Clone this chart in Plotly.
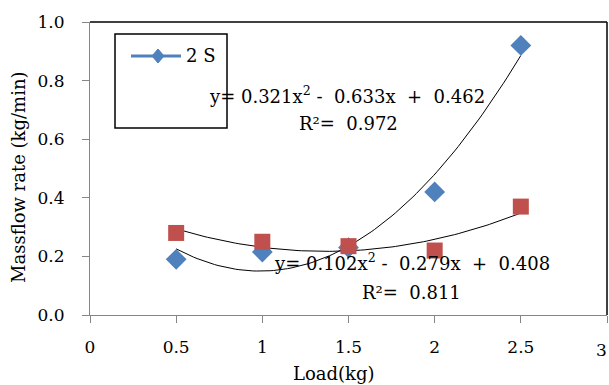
import numpy as np
import plotly.graph_objects as go

loads = [0.5, 1.0, 1.5, 2.0, 2.5]
s2_values = [0.19, 0.215, 0.23, 0.42, 0.92]
red_values = [0.28, 0.25, 0.235, 0.22, 0.37]
blue_coef = [0.321, -0.633, 0.462]
red_coef = [0.102, -0.279, 0.408]
x_ticks = [0, 0.5, 1, 1.5, 2, 2.5, 3]
x_tick_labels = ["0", "0.5", "1", "1.5", "2", "2.5", "3"]
y_ticks = [0.0, 0.2, 0.4, 0.6, 0.8, 1.0]

BLUE = "#4F81BD"
RED = "#C0504D"
FONT = "DejaVu Serif, serif"
NB = "\u00a0"

def f(size):
    return dict(family=FONT, size=size, color="black")

xs = np.linspace(loads[0], loads[-1], 100)
fig = go.Figure()
fig.add_trace(go.Scatter(x=xs, y=np.polyval(blue_coef, xs), mode="lines",
                         line=dict(color="black", width=1), showlegend=False, hoverinfo="skip"))
fig.add_trace(go.Scatter(x=xs, y=np.polyval(red_coef, xs), mode="lines",
                         line=dict(color="black", width=1), showlegend=False, hoverinfo="skip"))
fig.add_trace(go.Scatter(x=loads, y=s2_values, mode="markers", name="2 S",
                         marker=dict(symbol="diamond", size=16, color=BLUE), showlegend=False))
fig.add_trace(go.Scatter(x=loads, y=red_values, mode="markers", name="series2",
                         marker=dict(symbol="square", size=16, color=RED), showlegend=False))

W, H = 609, 385
L, R, T, B = 90, 2, 22, 70
pw, ph = W - L - R, H - T - B

def px(x):
    return (x - L) / pw

def py(y):
    return (H - B - y) / ph

dx, dy = 6 / pw, 7 / ph
cx, cy = px(158), py(56)
shapes = [
    dict(type="line", xref="paper", yref="paper", x0=0, x1=1, y0=1, y1=1,
         line=dict(color="black", width=1.5)),
    dict(type="line", xref="paper", yref="paper", x0=1, x1=1, y0=0, y1=1,
         line=dict(color="black", width=1.5)),
    dict(type="rect", xref="paper", yref="paper", x0=px(115), x1=px(227), y0=py(128), y1=py(34),
         line=dict(color="black", width=1.5), fillcolor="rgba(0,0,0,0)"),
    dict(type="line", xref="paper", yref="paper", x0=px(131), x1=px(181), y0=cy, y1=cy,
         line=dict(color=BLUE, width=3)),
    dict(type="path", xref="paper", yref="paper",
         path=f"M {cx-dx} {cy} L {cx} {cy+dy} L {cx+dx} {cy} L {cx} {cy-dy} Z",
         fillcolor=BLUE, line=dict(color=BLUE, width=1)),
]

def ann(x, y, text, size=18, data=False, angle=0, xanchor="center"):
    return dict(x=x, y=y, xref="x" if data else "paper", yref="y" if data else "paper",
                text=text, showarrow=False,
                xanchor=xanchor, yanchor="middle", textangle=angle, font=f(size))

fig.update_layout(
    width=W, height=H,
    margin=dict(l=L, r=R, t=T, b=B),
    paper_bgcolor="white", plot_bgcolor="white",
    font=f(18),
    showlegend=False,
    xaxis=dict(range=[0, 3], tickvals=x_ticks, ticktext=x_tick_labels, automargin=False,
               tickfont=f(17),
               showgrid=False, zeroline=False, showline=True, linecolor="#868686",
               ticks="outside", tickcolor="#868686", ticklen=7, ticklabelstandoff=10),
    yaxis=dict(range=[0, 1.0], tickvals=y_ticks, tickformat=".1f", automargin=False,
               tickfont=f(17),
               showgrid=False, zeroline=False, showline=True, linecolor="#868686",
               ticks="outside", tickcolor="#868686", ticklen=7, ticklabelstandoff=14),
    shapes=shapes,
    annotations=[
        ann(px(184), cy, "2 S", xanchor="left"),
        ann(px(334), py(373), "Load(kg)"),
        ann(px(18), py(177), "Massflow rate (kg/min)", angle=-90),
        ann(px(609), py(350), x_tick_labels[-1], size=17, xanchor="right"),
        ann(1.491, 0.751, f"y={NB}0.321x<sup>2</sup>{NB}-{NB}{NB}0.633x{NB}{NB}+{NB}{NB}0.462", data=True),
        ann(1.50, 0.652, f"R²={NB}{NB}0.972", data=True),
        ann(1.868, 0.181, f"y={NB}0.102x<sup>2</sup>{NB}-{NB}{NB}0.279x{NB}{NB}+{NB}{NB}0.408", data=True),
        ann(1.868, 0.078, f"R²={NB}{NB}0.811", data=True),
    ],
)
fig.write_html("out.html", config={"displayModeBar": False},
               post_script="document.body.style.margin='0';")
